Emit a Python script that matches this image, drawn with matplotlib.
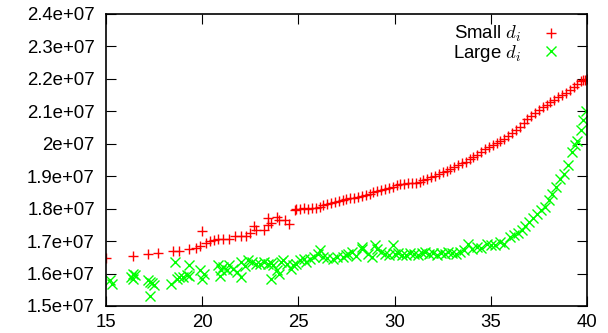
import matplotlib
matplotlib.use("Agg")
import matplotlib.pyplot as plt

# small d_i series (x, y in units of 1e7)
small_x = [15.0, 16.4, 17.2, 17.7, 18.5, 18.8, 19.3, 19.7, 19.9, 20.0, 20.2, 20.4,
           20.6, 20.8, 21.1, 21.4, 21.7, 22.0, 22.3, 22.5, 22.7, 22.8, 23.2, 23.4,
           23.4, 23.6, 23.9, 24.0, 24.3, 24.5, 24.8, 24.9, 25.1, 25.3, 25.5, 25.7,
           25.9, 26.1, 26.3, 26.5, 26.7, 26.9, 27.1, 27.3, 27.5, 27.7, 27.9, 28.1,
           28.3, 28.5, 28.7, 28.9, 29.1, 29.3, 29.5, 29.7, 29.9, 30.1, 30.3, 30.5,
           30.7, 30.9, 31.1, 31.3, 31.5, 31.7, 31.9, 32.1, 32.3, 32.5, 32.7, 32.9,
           33.1, 33.3, 33.5, 33.7, 33.9, 34.1, 34.3, 34.5, 34.7, 34.9, 35.1, 35.3,
           35.5, 35.7, 35.9, 36.1, 36.3, 36.5, 36.7, 36.9, 37.1, 37.3, 37.5, 37.7,
           37.9, 38.1, 38.3, 38.5, 38.7, 38.9, 39.1, 39.3, 39.5, 39.7, 39.8, 39.9, 40.0]
small_y = [1.648, 1.653, 1.659, 1.663, 1.670, 1.671, 1.676, 1.680, 1.684, 1.731, 1.694, 1.700,
           1.704, 1.706, 1.705, 1.706, 1.716, 1.715, 1.717, 1.725, 1.746, 1.735, 1.733, 1.751,
           1.771, 1.757, 1.774, 1.764, 1.766, 1.754, 1.797, 1.800, 1.798, 1.801, 1.800, 1.803,
           1.802, 1.806, 1.810, 1.814, 1.816, 1.820, 1.823, 1.826, 1.830, 1.832, 1.834, 1.836,
           1.838, 1.842, 1.845, 1.851, 1.853, 1.858, 1.860, 1.863, 1.866, 1.872, 1.877, 1.876,
           1.878, 1.879, 1.880, 1.883, 1.887, 1.892, 1.896, 1.901, 1.906, 1.912, 1.917, 1.922,
           1.928, 1.934, 1.940, 1.945, 1.952, 1.959, 1.966, 1.975, 1.983, 1.990, 1.996, 2.003,
           2.009, 2.016, 2.025, 2.034, 2.043, 2.052, 2.063, 2.075, 2.085, 2.095, 2.104, 2.112,
           2.120, 2.128, 2.136, 2.143, 2.150, 2.157, 2.166, 2.176, 2.185, 2.192, 2.195, 2.197, 2.200]

# large d_i series
large_x = [15.2, 15.3, 16.3, 16.4, 16.4, 16.5, 17.2, 17.3, 17.3, 17.5, 17.4, 18.4,
           18.6, 18.7, 18.8, 19.0, 19.3, 19.3, 19.2, 19.9, 20.0, 20.1, 20.8, 20.9,
           21.0, 21.1, 21.3, 21.4, 21.6, 21.8, 22.0, 22.0, 22.2, 22.4, 22.6, 22.8,
           23.0, 23.2, 23.4, 23.6, 23.6, 23.7, 23.9, 24.0, 24.1, 24.2, 24.4, 24.6,
           24.7, 24.9, 25.1, 25.3, 25.4, 25.6, 25.8, 26.0, 26.1, 26.3, 26.5, 26.8,
           27.0, 27.3, 27.5, 27.6, 27.8, 28.0, 28.3, 28.3, 28.6, 28.8, 29.0, 29.1,
           29.3, 29.5, 29.7, 29.9, 30.0, 30.2, 30.4, 30.6, 30.8, 31.0, 31.2, 31.4,
           31.6, 31.8, 32.0, 32.2, 32.4, 32.6, 32.8, 33.0, 33.2, 33.4, 33.6, 33.8,
           34.0, 34.3, 34.5, 34.8, 35.0, 35.2, 35.5, 35.7, 36.0, 36.2, 36.4, 36.6,
           36.8, 37.0, 37.2, 37.4, 37.6, 37.8, 38.0, 38.2, 38.4, 38.6, 38.8, 39.0,
           39.2, 39.4, 39.5, 39.7, 39.8, 39.95]
large_y = [1.579, 1.569, 1.590, 1.600, 1.584, 1.595, 1.580, 1.574, 1.530, 1.564, 1.570, 1.569,
           1.636, 1.584, 1.590, 1.589, 1.625, 1.591, 1.596, 1.610, 1.584, 1.600, 1.625, 1.591,
           1.610, 1.620, 1.610, 1.625, 1.615, 1.605, 1.589, 1.636, 1.622, 1.641, 1.636, 1.630,
           1.630, 1.636, 1.628, 1.632, 1.584, 1.625, 1.610, 1.600, 1.636, 1.641, 1.628, 1.615,
           1.625, 1.630, 1.641, 1.646, 1.635, 1.646, 1.650, 1.660, 1.672, 1.651, 1.648, 1.646,
           1.652, 1.651, 1.656, 1.661, 1.666, 1.655, 1.682, 1.677, 1.661, 1.651, 1.687, 1.675,
           1.666, 1.660, 1.656, 1.687, 1.661, 1.664, 1.658, 1.656, 1.662, 1.661, 1.658, 1.663,
           1.666, 1.660, 1.662, 1.656, 1.664, 1.660, 1.666, 1.663, 1.661, 1.666, 1.672, 1.692,
           1.676, 1.682, 1.680, 1.692, 1.688, 1.687, 1.697, 1.692, 1.713, 1.718, 1.725, 1.733,
           1.745, 1.760, 1.772, 1.785, 1.795, 1.805, 1.828, 1.845, 1.867, 1.890, 1.908, 1.934,
           1.975, 1.995, 2.010, 2.042, 2.073, 2.101]

x_ticks = [15, 20, 25, 30, 35, 40]
y_ticks = [1.5e7, 1.6e7, 1.7e7, 1.8e7, 1.9e7, 2.0e7, 2.1e7, 2.2e7, 2.3e7, 2.4e7]
y_labels = ['1.5e+07', '1.6e+07', '1.7e+07', '1.8e+07', '1.9e+07',
            '2e+07', '2.1e+07', '2.2e+07', '2.3e+07', '2.4e+07']

plt.rcParams['font.family'] = ['Liberation Sans', 'DejaVu Sans']
plt.rcParams['mathtext.fontset'] = 'cm'

fig = plt.figure(figsize=(6.08, 3.33), dpi=100)
ax = fig.add_axes([0.1743, 0.0811, 0.7912, 0.877])

ax.plot(small_x, [v * 1e7 for v in small_y], linestyle='none', marker='+',
        color='#ff0000', markersize=7.5, markeredgewidth=1.0, label='Small $d_i$')
ax.plot(large_x, [v * 1e7 for v in large_y], linestyle='none', marker='x',
        color='#00ff00', markersize=7.5, markeredgewidth=1.0, label='Large $d_i$')

ax.set_xlim(15, 40)
ax.set_ylim(1.5e7, 2.4e7)
ax.set_xticks(x_ticks)
ax.set_yticks(y_ticks)
ax.set_yticklabels(y_labels)
ax.tick_params(direction='in', length=7, width=0.8, top=True, right=True,
               labelsize=13.4, colors='black')
ax.tick_params(axis='x', pad=6)
ax.tick_params(axis='y', pad=8)
for s in ax.spines.values():
    s.set_linewidth(1.2)

leg = ax.legend(loc='upper right', bbox_to_anchor=(0.975, 1.01), frameon=False,
                markerfirst=False, fontsize=13.4, handlelength=1.2,
                handletextpad=1.0, labelspacing=-0.08, borderpad=0.2)

fig.savefig('out.png', dpi=100)
